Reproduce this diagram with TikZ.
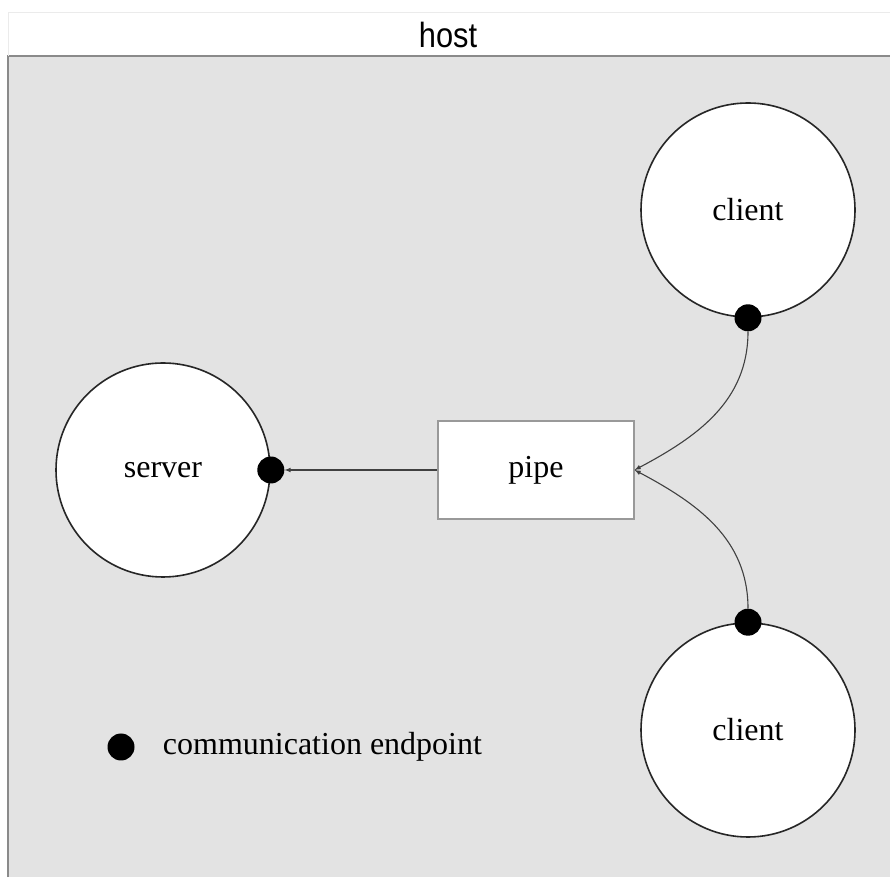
\documentclass[tikz,border=0pt]{standalone}
\usepackage{fontspec}
\setmainfont{Liberation Serif}
\newfontfamily\hostfont{Liberation Sans}
\usetikzlibrary{shapes.geometric, arrows, positioning}
\definecolor{hostgray}{RGB}{227,227,227}
\definecolor{framegray}{RGB}{138,138,138}
\tikzstyle{party} = [
    circle,
    minimum size=214pt,
    inner sep=0pt,
    draw=black!85,
    line width=1.6pt,
    fill=white,
    font=\fontsize{32}{38}\selectfont
]
\tikzstyle{endpoint} = [
    circle,
    minimum size=27pt,
    inner sep=0pt,
    fill=black
]
\tikzstyle{channel} = [
    rectangle,
    minimum width=196pt,
    minimum height=98pt,
    draw=black!40,
    line width=1.2pt,
    fill=white,
    font=\fontsize{32}{38}\selectfont
]
\tikzstyle{arrow} = [line width=1.1pt, draw=black!75, ->, >=latex]

\begin{document}
\begin{tikzpicture}[x=1pt, y=1pt]
\useasboundingbox (0,0) rectangle (890,877);

% host frame
\fill [hostgray] (8,0) rectangle (890,821);
\fill [white] (8,821) rectangle (890,864);
\draw [framegray, line width=2pt] (8,0) -- (8,821) -- (890,821);
\draw [black!8, line width=1pt] (8,821) -- (8,864) -- (890,864);
\node (host) at (448,842) [font=\hostfont\fontsize{35}{40}\selectfont, xscale=0.88] {host};

\node (server) [party] at (163,407) {server};
\node (pipe) [channel] at (536,407) {pipe};
\node (client1) [party] at (748,667) {client};
\node (client2) [party] at (748,147) {client};

\node (ep0) [endpoint] at (server.east) {};
\node (ep1) [endpoint] at (client1.south) {};
\node (ep2) [endpoint] at (client2.north) {};

\draw [arrow] (pipe) -- (ep0);
\draw [arrow] (ep1) to[out=-90, in=28] (pipe.east);
\draw [arrow] (ep2) to[out=90, in=-28] (pipe.east);

% legend
\node (key) [endpoint] at (121,130) {};
\node (keytext) [right=28pt of key, inner sep=0pt, font=\fontsize{32}{38}\selectfont] {communication endpoint};

\end{tikzpicture}
\end{document}
